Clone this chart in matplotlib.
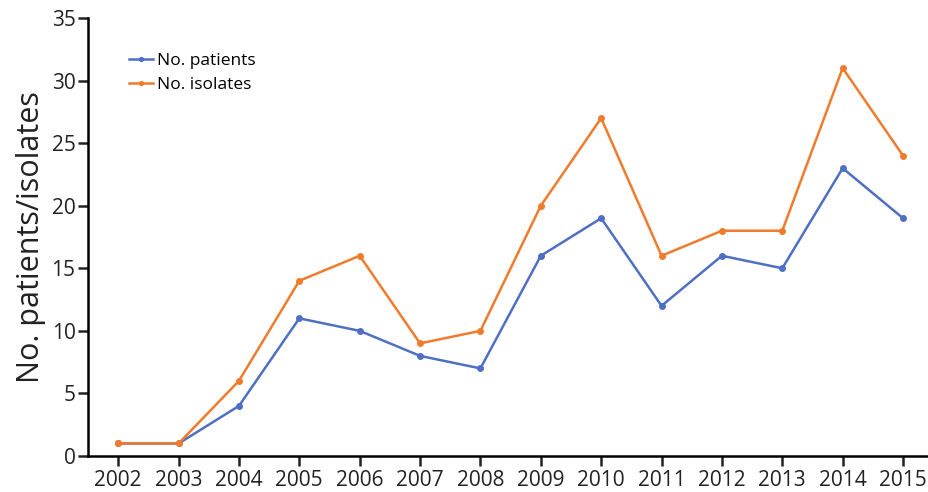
import matplotlib
matplotlib.use("Agg")
import matplotlib.pyplot as plt

years = [2002, 2003, 2004, 2005, 2006, 2007, 2008, 2009, 2010, 2011, 2012, 2013, 2014, 2015]
patients = [1, 1, 4, 11, 10, 8, 7, 16, 19, 12, 16, 15, 23, 19]
isolates = [1, 1, 6, 14, 16, 9, 10, 20, 27, 16, 18, 18, 31, 24]
yticks = [0, 5, 10, 15, 20, 25, 30, 35]

plt.rcParams['font.family'] = ['Open Sans', 'DejaVu Sans']

fig = plt.figure(figsize=(9.29, 4.92), dpi=100)
ax = fig.add_axes([88/929, 36/492, 1 - 88/929, (456-18)/492])

blue = '#4f6fc4'
orange = '#f07b2b'
ax.plot(years, patients, color=blue, lw=1.8, marker='o', ms=4, label='No. patients')
ax.plot(years, isolates, color=orange, lw=1.8, marker='o', ms=4, label='No. isolates')

ax.set_xlim(2001.5, 2015.43)
ax.set_ylim(0, 35)
ax.set_xticks(years)
ax.set_xticklabels([str(y) for y in years])
ax.set_yticks(yticks)
ax.spines['top'].set_visible(False)
ax.spines['right'].set_visible(False)
ax.spines['left'].set_linewidth(1.8)
ax.spines['bottom'].set_linewidth(1.8)
ax.tick_params(axis='both', labelsize=15, width=1.8, length=7, color='#222222', labelcolor='#222222')
ax.tick_params(axis='x', pad=3)
ax.tick_params(axis='y', pad=2)
ax.set_ylabel('No. patients/isolates', fontsize=22, color='#222222', labelpad=4)

leg = ax.legend(loc='upper left', bbox_to_anchor=(0.03, 0.955), frameon=False,
                fontsize=12.5, handlelength=1.4, handletextpad=0.2, labelspacing=0.45,
                markerscale=0.7)

fig.savefig('out.png', dpi=100)
